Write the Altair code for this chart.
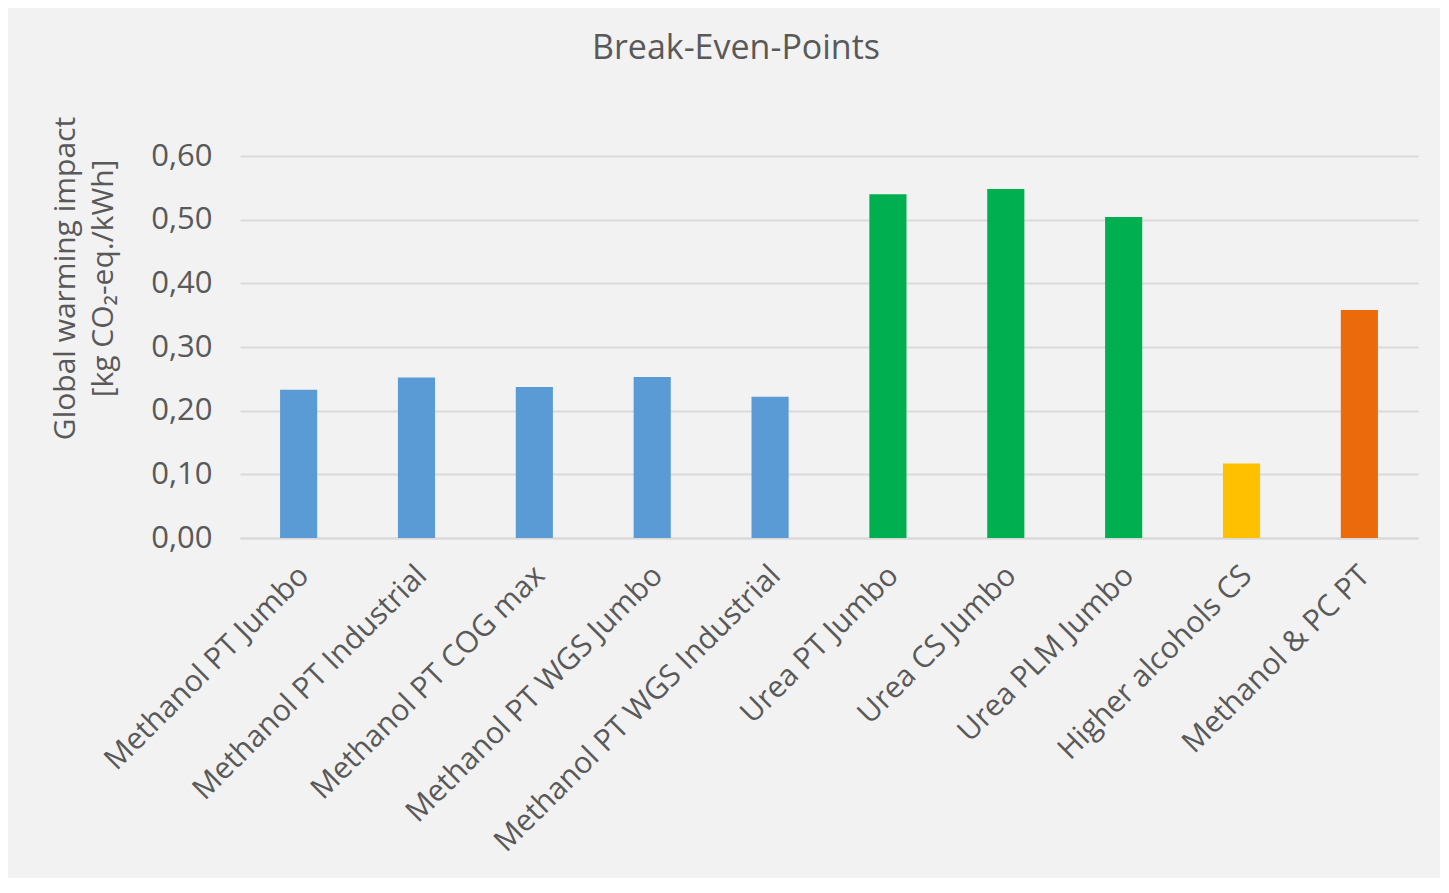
import altair as alt
import pandas as pd

categories = [
    "Methanol PT Jumbo", "Methanol PT Industrial", "Methanol PT COG max",
    "Methanol PT WGS Jumbo", "Methanol PT WGS Industrial", "Urea PT Jumbo",
    "Urea CS Jumbo", "Urea PLM Jumbo", "Higher alcohols CS", "Methanol & PC PT",
]
values = [0.233, 0.252, 0.237, 0.253, 0.222, 0.540, 0.548, 0.504, 0.117, 0.358]
groups = ["Methanol", "Methanol", "Methanol", "Methanol", "Methanol",
          "Urea", "Urea", "Urea", "Higher alcohols", "Methanol & PC"]
group_names = ["Methanol", "Urea", "Higher alcohols", "Methanol & PC"]
group_colors = ["#5b9bd5", "#00b050", "#ffc000", "#eb6a0b"]
y_ticks = [0.0, 0.1, 0.2, 0.3, 0.4, 0.5, 0.6]

df = pd.DataFrame({"cat": categories, "val": values, "grp": groups})

FONT = "Open Sans"
TXT = "#595959"

chart = alt.Chart(df).mark_bar().encode(
    x=alt.X("cat:N", sort=categories, title=None,
            scale=alt.Scale(paddingInner=0.685, paddingOuter=0.34),
            axis=alt.Axis(labelAngle=-45, labelAlign="right", labelBaseline="top",
                          labelFontSize=30, labelFont=FONT, labelColor=TXT,
                          labelPadding=22, labelOffset=-5, ticks=False,
                          domainColor="#d9d9d9", domainWidth=2, labelLimit=600)),
    y=alt.Y("val:Q", scale=alt.Scale(domain=[0, 0.6], nice=False),
            title=["Global warming impact", "[kg CO\u2082-eq./kWh]"],
            axis=alt.Axis(values=y_ticks, labelExpr="replace(format(datum.value, '.2f'), '.', ',')",
                          labelFontSize=31, labelFont=FONT, labelColor=TXT,
                          labelPadding=28, ticks=False, domain=False,
                          gridColor="#d9d9d9", gridWidth=2,
                          titleFont=FONT, titleFontSize=30, titleColor=TXT,
                          titleFontWeight="normal", titleX=-160, titleY=122,
                          titleAngle=-90, titleAlign="center", titleBaseline="bottom",
                          titleLineHeight=38)),
    color=alt.Color("grp:N", scale=alt.Scale(domain=group_names, range=group_colors),
                    legend=None),
).properties(
    width=1178, height=382,
    title=alt.TitleParams("Break-Even-Points", font=FONT, fontSize=34, color=TXT,
                          fontWeight="normal", dx=-93, offset=50),
    autosize=alt.AutoSizeParams(type="none"),
    padding={"left": 232, "top": 148, "right": 22, "bottom": 340},
).configure(background="#f2f2f2").configure_view(stroke=None)

chart.save("out.html", embed_options={"renderer": "svg", "actions": False})
